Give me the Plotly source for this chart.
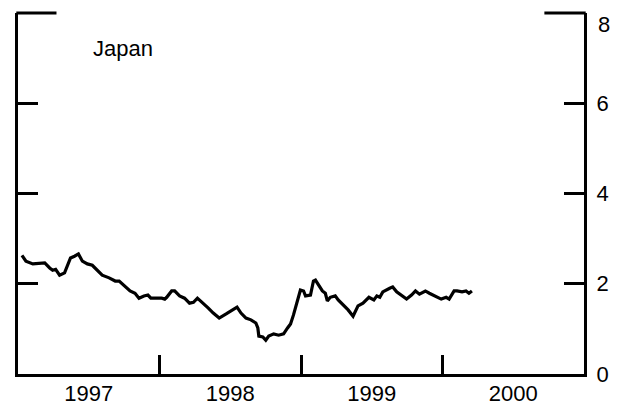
import plotly.graph_objects as go

# Decimal-year positions and values
years = [1997.028, 1997.056, 1997.105, 1997.154, 1997.189, 1997.224, 1997.245, 1997.266,
         1997.294, 1997.329, 1997.371, 1997.399, 1997.427, 1997.455, 1997.490, 1997.525,
         1997.560, 1997.595, 1997.644, 1997.687, 1997.715, 1997.750, 1997.792, 1997.827,
         1997.855, 1997.890, 1997.918, 1997.939, 1997.995, 1998.016, 1998.037, 1998.051,
         1998.086, 1998.107, 1998.142, 1998.177, 1998.212, 1998.240, 1998.268, 1998.310,
         1998.345, 1998.380, 1998.422, 1998.471, 1998.506, 1998.548, 1998.576, 1998.611,
         1998.646, 1998.681, 1998.695, 1998.702, 1998.730, 1998.751, 1998.772, 1998.807,
         1998.842, 1998.877, 1998.905, 1998.926, 1998.947, 1998.975, 1998.996, 1999.018,
         1999.032, 1999.067, 1999.088, 1999.102, 1999.123, 1999.151, 1999.172, 1999.186,
         1999.207, 1999.242, 1999.263, 1999.298, 1999.333, 1999.368, 1999.403, 1999.438,
         1999.480, 1999.515, 1999.536, 1999.557, 1999.578, 1999.627, 1999.648, 1999.676,
         1999.711, 1999.746, 1999.781, 1999.809, 1999.837, 1999.879, 1999.907, 1999.942,
         1999.991, 2000.026, 2000.047, 2000.082, 2000.103, 2000.138, 2000.166, 2000.187,
         2000.208]
values = [2.63, 2.50, 2.44, 2.46, 2.46, 2.35, 2.30, 2.32,
          2.19, 2.24, 2.57, 2.61, 2.66, 2.50, 2.44, 2.41,
          2.30, 2.19, 2.13, 2.06, 2.06, 1.95, 1.84, 1.79,
          1.68, 1.73, 1.75, 1.68, 1.68, 1.68, 1.66, 1.70,
          1.84, 1.84, 1.73, 1.68, 1.57, 1.59, 1.68, 1.57,
          1.46, 1.35, 1.24, 1.33, 1.39, 1.48, 1.35, 1.24,
          1.20, 1.13, 1.02, 0.84, 0.82, 0.75, 0.84, 0.89,
          0.86, 0.89, 1.02, 1.11, 1.31, 1.62, 1.86, 1.84,
          1.73, 1.75, 2.06, 2.08, 1.97, 1.84, 1.79, 1.62,
          1.70, 1.73, 1.64, 1.53, 1.42, 1.28, 1.51, 1.57,
          1.70, 1.64, 1.73, 1.70, 1.82, 1.90, 1.93, 1.82,
          1.73, 1.66, 1.75, 1.84, 1.77, 1.84, 1.79, 1.73,
          1.66, 1.70, 1.66, 1.84, 1.84, 1.82, 1.84, 1.79,
          1.84]

year_labels = ["1997", "1998", "1999", "2000"]
year_label_pos = [1997.5, 1998.5, 1999.5, 2000.5]
year_ticks = [1998, 1999, 2000]
y_ticks = [0, 2, 4, 6]
y_top = 8
title_text = "Japan"

FONT = "Liberation Sans, Arial, sans-serif"
FS = 22

fig = go.Figure()
fig.add_trace(go.Scatter(x=years, y=values, mode="lines",
                         line=dict(color="black", width=3.2), showlegend=False,
                         hoverinfo="skip"))

fig.update_layout(
    width=615, height=398,
    margin=dict(l=9.5, r=38.5, t=5, b=32, autoexpand=False),
    paper_bgcolor="white", plot_bgcolor="white",
    font=dict(family=FONT, size=FS, color="black"),
    xaxis=dict(range=[1997, 2001], showgrid=False, zeroline=False, automargin=False,
               showline=True, linecolor="black", linewidth=3,
               tickvals=year_label_pos, ticktext=year_labels, ticks="",
               tickfont=dict(size=FS), ticklabelstandoff=-2,
               minor=dict(tickvals=year_ticks, ticks="inside", ticklen=19,
                          tickwidth=3, tickcolor="black"),
               fixedrange=True),
    yaxis=dict(range=[0, y_top], showgrid=False, zeroline=False, automargin=False,
               showline=True, linecolor="black", linewidth=3, mirror="ticks",
               side="right", tickvals=y_ticks, ticks="inside", ticklen=20,
               tickwidth=3, tickcolor="black", tickfont=dict(size=FS),
               ticklabelstandoff=5, fixedrange=True),
    shapes=[
        dict(type="line", xref="paper", yref="paper", x0=-0.003, x1=0.068, y0=1, y1=1,
             line=dict(color="black", width=3)),
        dict(type="line", xref="paper", yref="paper", x0=0.93, x1=1.003, y0=1, y1=1,
             line=dict(color="black", width=3)),
    ],
    annotations=[
        dict(text=title_text, xref="paper", yref="paper", x=0.186, y=0.903,
             showarrow=False, xanchor="center", yanchor="middle",
             font=dict(size=FS, family=FONT)),
        dict(text=str(y_top), xref="paper", yref="y", x=1, y=y_top, xshift=12,
             yshift=-11, showarrow=False, xanchor="left", yanchor="middle",
             font=dict(size=FS, family=FONT)),
    ],
)

fig.write_html("out.html")
